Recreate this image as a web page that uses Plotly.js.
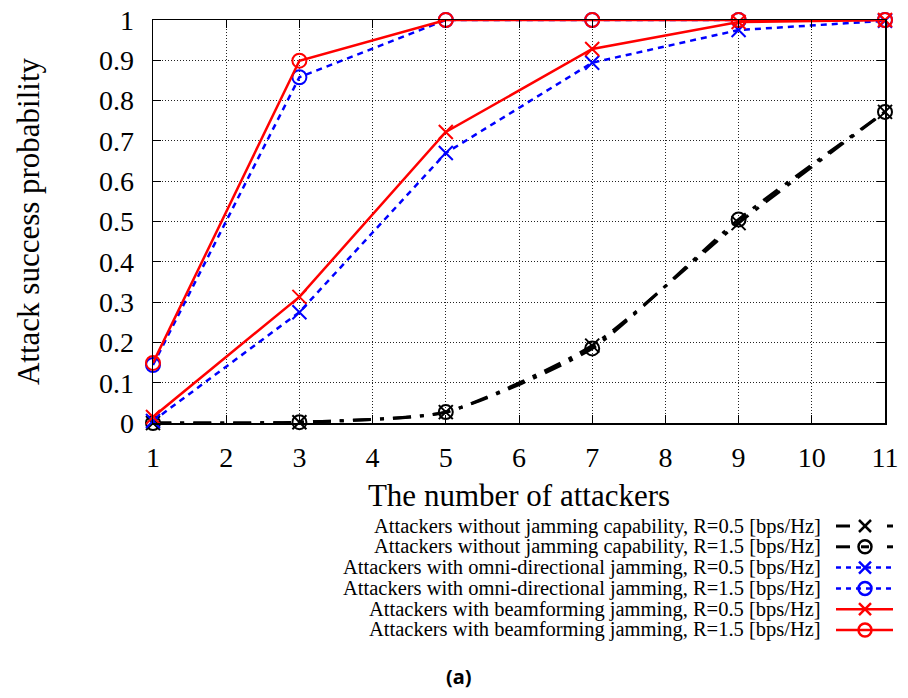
<!DOCTYPE html>
<html>
<head>
<meta charset="utf-8">
<script src="https://cdn.plot.ly/plotly-3.0.1.min.js"></script>
<style>html,body{margin:0;padding:0;background:#fff;}#chart{width:908px;height:698px;}</style>
</head>
<body>
<div id="chart"></div>
<script>
// ---- data ----
const attackers = [1, 3, 5, 7, 9, 11];
const noJamR05 = [0, 0.002, 0.027, 0.192, 0.496, 0.772];
const noJamR15 = [0, 0.002, 0.027, 0.185, 0.505, 0.772];
const omniR05 = [0.005, 0.275, 0.670, 0.894, 0.975, 0.998];
const omniR15 = [0.144, 0.858, 1.0, 1.0, 1.0, 1.0];
const beamR05 = [0.015, 0.313, 0.722, 0.928, 0.995, 1.0];
const beamR15 = [0.149, 0.899, 1.0, 1.0, 1.0, 1.0];
const seriesNames = [
  'Attackers without jamming capability, R=0.5 [bps/Hz]',
  'Attackers without jamming capability, R=1.5 [bps/Hz]',
  'Attackers with omni-directional jamming, R=0.5 [bps/Hz]',
  'Attackers with omni-directional jamming, R=1.5 [bps/Hz]',
  'Attackers with beamforming jamming, R=0.5 [bps/Hz]',
  'Attackers with beamforming jamming, R=1.5 [bps/Hz]'
];
const xTicks = [1,2,3,4,5,6,7,8,9,10,11];
const yTicks = [0,0.1,0.2,0.3,0.4,0.5,0.6,0.7,0.8,0.9,1];
const yTickText = ['0','0.1','0.2','0.3','0.4','0.5','0.6','0.7','0.8','0.9','1'];

// ---- styles ----
const W = 908, H = 698;
const L = 153, R = 885, T = 20, B = 423;
const serif = 'Liberation Serif, Times New Roman, serif';
const styles = [
  {color:'#000000', dash:'18px,9px,4px,9px', width:3, symbol:'x-thin-open', shape:'spline'},
  {color:'#000000', dash:'18px,9px,4px,9px', width:3, symbol:'circle-open', shape:'spline'},
  {color:'#0000ff', dash:'6px,5px', width:2.5, symbol:'x-thin-open', shape:'linear'},
  {color:'#0000ff', dash:'6px,5px', width:2.5, symbol:'circle-open', shape:'linear'},
  {color:'#ff0000', dash:'solid', width:2.5, symbol:'x-thin-open', shape:'linear'},
  {color:'#ff0000', dash:'solid', width:2.5, symbol:'circle-open', shape:'linear'}
];
const seriesY = [noJamR05, noJamR15, omniR05, omniR15, beamR05, beamR15];

const traces = seriesY.map((ys, i) => ({
  type:'scatter', mode:'lines+markers', name: seriesNames[i],
  x: attackers, y: ys, showlegend:false, cliponaxis:false,
  line:{color:styles[i].color, dash:styles[i].dash, width:styles[i].width, shape:styles[i].shape, smoothing:0.6},
  marker:{symbol:styles[i].symbol, size:14, color:styles[i].color, line:{color:styles[i].color, width:2}}
}));

// ---- custom legend (text left of sample, right aligned) ----
const PX = p => (p - L) / (R - L);
const PY = p => (B - p) / (B - T);
const annotations = [];
const shapes = [];
const rowY0 = 526, rowStep = 20.8;
const textRight = 822, s0 = 836, s1 = 893, mx = 865;
seriesNames.forEach((name, i) => {
  const y = rowY0 + i * rowStep;
  const st = styles[i];
  annotations.push({xref:'paper', yref:'paper', x:PX(textRight), y:PY(y), xanchor:'right', yanchor:'middle',
    borderpad:0, text:name, showarrow:false, font:{family:serif, size:20.5, color:'#000'}});
  const ln = (xa, xb, dash) => shapes.push({type:'line', xref:'paper', yref:'paper',
    x0:PX(xa), x1:PX(xb), y0:PY(y), y1:PY(y), line:{color:st.color, width:st.width, dash:dash}});
  if (i < 2) { ln(s0, 850, 'solid'); ln(887, s1, 'solid'); if (i === 1) ln(861, 869, 'solid'); }
  else if (i < 4) { ln(s0, s1, '5px,5px'); }
  else { ln(s0, s1, 'solid'); }
  const r = 6.5;
  if (st.symbol === 'circle-open') {
    shapes.push({type:'circle', xref:'paper', yref:'paper', x0:PX(mx - r), x1:PX(mx + r), y0:PY(y + r), y1:PY(y - r),
      line:{color:st.color, width:2.5}, fillcolor:'rgba(0,0,0,0)'});
  } else {
    const d = 6;
    [[-1,-1,1,1],[-1,1,1,-1]].forEach(c => shapes.push({type:'line', xref:'paper', yref:'paper',
      x0:PX(mx + c[0]*d), y0:PY(y + c[1]*d), x1:PX(mx + c[2]*d), y1:PY(y + c[3]*d),
      line:{color:st.color, width:2.5}}));
  }
});
annotations.push({xref:'paper', yref:'paper', x:PX(459), y:PY(676), xanchor:'center', yanchor:'middle',
  text:'<b>(a)</b>', showarrow:false, font:{family:'Noto Sans, DejaVu Sans, sans-serif', size:20, color:'#000'}});

const axisCommon = {
  showline:true, linecolor:'#000', linewidth:1.5, mirror:'ticks',
  ticks:'inside', ticklen:8, tickwidth:1, tickcolor:'#000',
  showgrid:true, gridcolor:'#222', gridwidth:1, griddash:'1px,2px',
  zeroline:false, automargin:false,
  tickfont:{family:serif, size:28, color:'#000'}
};

const layout = {
  width:W, height:H,
  margin:{l:L, r:W - R, t:T, b:H - B, pad:0},
  paper_bgcolor:'#fff', plot_bgcolor:'#fff',
  showlegend:false,
  xaxis: Object.assign({}, axisCommon, {
    range:[1, 11], tickmode:'array', tickvals:xTicks, ticklabelstandoff:9,
    title:{text:'The number of attackers', font:{family:serif, size:31, color:'#000'}, standoff:12}
  }),
  yaxis: Object.assign({}, axisCommon, {
    range:[0, 1], tickmode:'array', tickvals:yTicks, ticktext:yTickText, ticklabelstandoff:12,
    title:{text:'Attack success probability', font:{family:serif, size:31, color:'#000'}, standoff:50}
  }),
  annotations: annotations,
  shapes: shapes
};

Plotly.newPlot('chart', traces, layout, {staticPlot:true, displayModeBar:false});
</script>
</body>
</html>
